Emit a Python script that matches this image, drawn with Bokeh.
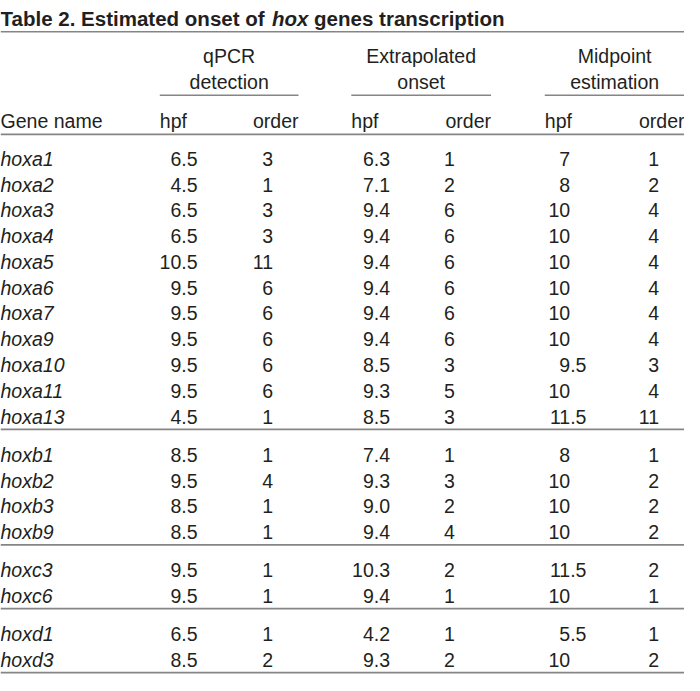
from bokeh.plotting import figure
from bokeh.models import ColumnDataSource, Range1d
from bokeh.core.properties import value
from bokeh.embed import file_html
from bokeh.resources import INLINE

# ---------------- data ----------------
title_parts = ["Table 2. Estimated onset of", "hox", "genes transcription"]
group_labels = [["qPCR", "detection"], ["Extrapolated", "onset"], ["Midpoint", "estimation"]]
sub_labels = ["hpf", "order"]
first_col_label = "Gene name"

genes = ["hoxa1", "hoxa2", "hoxa3", "hoxa4", "hoxa5", "hoxa6", "hoxa7", "hoxa9",
         "hoxa10", "hoxa11", "hoxa13",
         "hoxb1", "hoxb2", "hoxb3", "hoxb9",
         "hoxc3", "hoxc6",
         "hoxd1", "hoxd3"]
clusters = ["a"] * 11 + ["b"] * 4 + ["c"] * 2 + ["d"] * 2

qpcr_hpf = [6.5, 4.5, 6.5, 6.5, 10.5, 9.5, 9.5, 9.5, 9.5, 9.5, 4.5,
            8.5, 9.5, 8.5, 8.5, 9.5, 9.5, 6.5, 8.5]
qpcr_order = [3, 1, 3, 3, 11, 6, 6, 6, 6, 6, 1,
              1, 4, 1, 1, 1, 1, 1, 2]
extrap_hpf = [6.3, 7.1, 9.4, 9.4, 9.4, 9.4, 9.4, 9.4, 8.5, 9.3, 8.5,
              7.4, 9.3, 9.0, 9.4, 10.3, 9.4, 4.2, 9.3]
extrap_order = [1, 2, 6, 6, 6, 6, 6, 6, 3, 5, 3,
                1, 3, 2, 4, 2, 1, 1, 2]
mid_hpf = [7, 8, 10, 10, 10, 10, 10, 10, 9.5, 10, 11.5,
           8, 10, 10, 10, 11.5, 10, 5.5, 10]
mid_order = [1, 2, 4, 4, 4, 4, 4, 4, 3, 4, 11,
             1, 2, 2, 2, 2, 1, 1, 2]

# ---------------- layout ----------------
W, H = 700, 691            # reference geometry (data units)
PW, PH = 684, 675          # figure size on page
S = PW / W

FONT = value("Liberation Sans")
TXT = "#231f20"
RULE = "#858585"


def fs(v):
    return f"{v * S:.2f}px"


p = figure(width=PW, height=PH, x_range=Range1d(0, W), y_range=Range1d(H, 0),
           x_axis_type=None, y_axis_type=None, output_backend="svg",
           toolbar_location=None, min_border=0)
p.grid.visible = False
p.outline_line_color = None
p.background_fill_color = "white"
p.border_fill_color = "white"

BODY = fs(20)

# title (mixed roman / italic); advance widths in em for Arial-metric bold
TSZ = 21
title_fs = fs(TSZ)
SPACE = 0.278 * TSZ
x_hox = 12.948 * TSZ + SPACE
x_rest = x_hox + 1.778 * TSZ + SPACE
for x, t, st in [(0, title_parts[0], "bold"), (x_hox, title_parts[1], "bold italic"),
                 (x_rest, title_parts[2], "bold")]:
    p.text(x=[x], y=[18], text=[t], text_font=FONT, text_font_style=st,
           text_font_size=title_fs, text_color=TXT, text_baseline="alphabetic", text_align="left")

# column geometry
grp_left = [163, 359, 557]
grp_right = [305, 502, 700]
dec_x = [185, 382, 583]
ord_x = [279, 465, 674]

# group headers
for gl, l, r in zip(group_labels, grp_left, grp_right):
    cx = (l + r) / 2
    p.text(x=[cx, cx], y=[57, 83], text=gl, text_font=FONT, text_font_size=BODY,
           text_color=TXT, text_align="center", text_baseline="alphabetic")

# sub headers
p.text(x=[0], y=[123.5], text=[first_col_label], text_font=FONT, text_font_size=BODY,
       text_color=TXT, text_align="left", text_baseline="alphabetic")
p.text(x=grp_left, y=[123.5] * 3, text=[sub_labels[0]] * 3, text_font=FONT, text_font_size=BODY,
       text_color=TXT, text_align="left", text_baseline="alphabetic")
p.text(x=grp_right, y=[123.5] * 3, text=[sub_labels[1]] * 3, text_font=FONT, text_font_size=BODY,
       text_color=TXT, text_align="right", text_baseline="alphabetic")

# row positions
order_of_clusters = []
for c in clusters:
    if c not in order_of_clusters:
        order_of_clusters.append(c)
gidx = [order_of_clusters.index(c) for c in clusters]
row_y = [162 + 26.4 * i + 12.6 * g for i, g in enumerate(gidx)]

# gene names
p.text(x=[0] * len(genes), y=row_y, text=genes, text_font=FONT, text_font_style="italic",
       text_font_size=BODY, text_color=TXT, text_align="left", text_baseline="alphabetic")


def fmt_fixed(v):
    return f"{v:.1f}"


def fmt_g(v):
    return f"{v:g}"


hpf_cols = [(qpcr_hpf, fmt_fixed), (extrap_hpf, fmt_fixed), (mid_hpf, fmt_g)]
ord_cols = [qpcr_order, extrap_order, mid_order]

for (vals, fmt), dx in zip(hpf_cols, dec_x):
    strs = [fmt(v) for v in vals]
    ints = [s.split(".")[0] for s in strs]
    fracs = ["." + s.split(".")[1] if "." in s else "" for s in strs]
    src = ColumnDataSource(dict(x=[dx] * len(strs), y=row_y, i=ints, f=fracs))
    p.text(x="x", y="y", text="i", source=src, text_font=FONT, text_font_size=BODY,
           text_color=TXT, text_align="right", text_baseline="alphabetic")
    p.text(x="x", y="y", text="f", source=src, text_font=FONT, text_font_size=BODY,
           text_color=TXT, text_align="left", text_baseline="alphabetic")

for vals, ox in zip(ord_cols, ord_x):
    p.text(x=[ox] * len(vals), y=row_y, text=[str(v) for v in vals], text_font=FONT,
           text_font_size=BODY, text_color=TXT, text_align="right", text_baseline="alphabetic")

# rules
hx0, hx1, hy = [0, 0], [W, W], [32, 137]
for k in range(len(clusters)):
    last = (k == len(clusters) - 1) or (clusters[k + 1] != clusters[k])
    if last:
        hx0.append(0)
        hx1.append(W)
        hy.append(row_y[k] + 13)
p.segment(x0=hx0, x1=hx1, y0=hy, y1=hy, line_color=RULE, line_width=1.7)
p.segment(x0=grp_left, x1=grp_right, y0=[97] * 3, y1=[97] * 3, line_color=RULE, line_width=1.7)

open("out.html", "w").write(file_html(p, INLINE))
